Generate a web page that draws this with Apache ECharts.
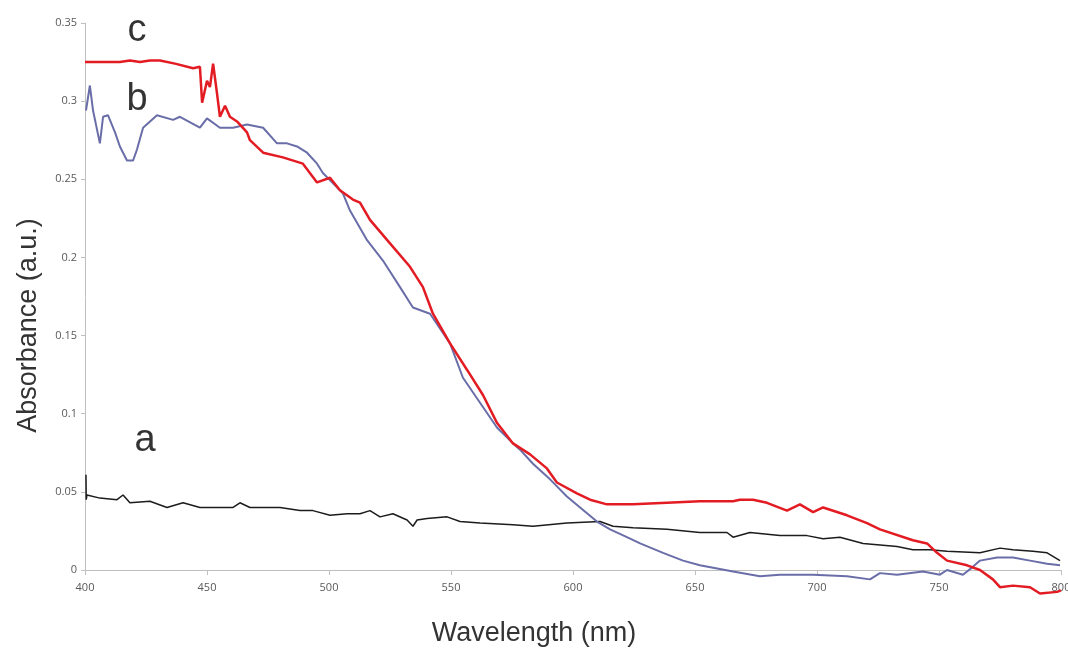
<!DOCTYPE html>
<html>
<head>
<meta charset="utf-8">
<script src="https://cdn.jsdelivr.net/npm/echarts@6/dist/echarts.min.js"></script>
<style>
  html, body { margin: 0; padding: 0; background: #fff; }
  #chart { width: 1068px; height: 648px; }
</style>
</head>
<body>
<div id="chart"></div>
<script>
// wavelength (nm), absorbance (a.u.) pairs
const curveA = [
  [400.4, 0.061], [400.5, 0.045], [400.8, 0.048], [406.1, 0.046], [413.1, 0.045], [415.6, 0.048],
  [418.4, 0.043], [426.6, 0.044], [433.6, 0.040], [440.2, 0.043], [447.1, 0.040], [460.7, 0.040],
  [463.5, 0.043], [467.6, 0.040], [479.9, 0.040], [488.1, 0.038], [493.4, 0.038], [500.4, 0.035],
  [507.4, 0.036], [512.7, 0.036], [516.8, 0.038], [520.9, 0.034], [526.2, 0.036], [532.0, 0.032],
  [534.4, 0.028], [536.1, 0.032], [540.2, 0.033], [548.4, 0.034], [553.7, 0.031], [561.9, 0.030],
  [575.4, 0.029], [583.6, 0.028], [597.5, 0.030], [611.1, 0.031], [616.4, 0.028], [624.6, 0.027],
  [638.5, 0.026], [652.0, 0.024], [663.1, 0.024], [665.6, 0.021], [672.5, 0.024], [684.8, 0.022],
  [695.9, 0.022], [702.5, 0.020], [709.4, 0.021], [718.9, 0.017], [732.8, 0.015], [739.3, 0.013],
  [746.3, 0.013], [753.3, 0.012], [766.8, 0.011], [775.0, 0.014], [780.3, 0.013], [788.5, 0.012],
  [794.3, 0.011], [799.6, 0.006]
];

const curveB = [
  [400.4, 0.294], [402.0, 0.310], [403.3, 0.294], [406.1, 0.273], [407.4, 0.290], [409.4, 0.291],
  [412.3, 0.280], [414.3, 0.271], [417.2, 0.262], [419.7, 0.262], [421.3, 0.269], [423.8, 0.283],
  [429.5, 0.291], [436.1, 0.288], [438.9, 0.290], [447.1, 0.283], [450.0, 0.289], [455.3, 0.283],
  [460.7, 0.283], [466.4, 0.285], [473.0, 0.283], [478.7, 0.273], [482.8, 0.273], [486.9, 0.271],
  [491.0, 0.267], [495.1, 0.260], [497.5, 0.254], [505.7, 0.241], [508.6, 0.230], [515.6, 0.211],
  [522.1, 0.198], [529.1, 0.181], [534.4, 0.168], [541.4, 0.164], [549.6, 0.145], [554.9, 0.123],
  [561.9, 0.107], [568.9, 0.091], [575.4, 0.081], [578.3, 0.077], [583.6, 0.068], [590.6, 0.058],
  [597.5, 0.047], [602.9, 0.040], [609.8, 0.031], [615.2, 0.026], [622.1, 0.021], [627.5, 0.017],
  [636.9, 0.011], [645.1, 0.006], [652.0, 0.003], [665.6, -0.001], [676.6, -0.004], [684.8, -0.003],
  [698.4, -0.003], [712.3, -0.004], [721.7, -0.006], [725.8, -0.002], [732.8, -0.003], [743.4, -0.001],
  [750.4, -0.003], [753.3, 0.000], [759.8, -0.003], [763.9, 0.002], [766.8, 0.006], [773.8, 0.008],
  [780.3, 0.008], [787.3, 0.006], [794.3, 0.004], [799.6, 0.003]
];

const curveC = [
  [400.0, 0.325], [414.3, 0.325], [418.4, 0.326], [422.5, 0.325], [426.6, 0.326], [430.7, 0.326],
  [436.9, 0.324], [444.3, 0.321], [447.1, 0.322], [448.0, 0.299], [450.0, 0.313], [451.2, 0.309],
  [452.5, 0.324], [454.1, 0.305], [455.3, 0.290], [457.4, 0.297], [459.4, 0.290], [462.3, 0.287],
  [466.4, 0.280], [467.6, 0.275], [473.0, 0.267], [481.1, 0.264], [489.3, 0.260], [495.1, 0.248],
  [500.4, 0.251], [504.5, 0.243], [509.8, 0.237], [512.7, 0.235], [516.8, 0.224], [525.0, 0.209],
  [533.2, 0.194], [538.5, 0.181], [542.6, 0.164], [549.6, 0.145], [556.6, 0.128], [563.1, 0.112],
  [568.9, 0.094], [575.4, 0.081], [582.4, 0.074], [589.3, 0.065], [593.4, 0.056], [601.6, 0.049],
  [607.0, 0.045], [613.9, 0.042], [624.6, 0.042], [638.5, 0.043], [652.0, 0.044], [665.6, 0.044],
  [668.4, 0.045], [673.8, 0.045], [679.5, 0.043], [687.7, 0.038], [693.0, 0.042], [698.4, 0.037],
  [702.5, 0.040], [712.3, 0.035], [720.5, 0.030], [725.8, 0.026], [739.3, 0.019], [745.1, 0.017],
  [749.2, 0.011], [753.3, 0.006], [761.5, 0.003], [766.8, 0.000], [772.1, -0.006], [775.0, -0.011],
  [780.3, -0.010], [787.3, -0.011], [791.4, -0.015], [798.4, -0.014], [800.0, -0.013]
];

// curve letters and where they sit (data coords)
const letterNames = ['c', 'b', 'a'];
const letterPos = [[421.3, 0.345], [421.3, 0.301], [424.6, 0.083]];

const chart = echarts.init(document.getElementById('chart'));

const lineSeries = (name, data, color, width) => ({
  name: name,
  type: 'line',
  data: data,
  showSymbol: false,
  clip: false,
  lineStyle: { color: color, width: width },
  itemStyle: { color: color },
  z: 3,
});

chart.setOption({
  animation: false,
  grid: { left: 85, right: 7, top: 23, bottom: 78, outerBoundsMode: 'none' },
  xAxis: {
    type: 'value',
    min: 400,
    max: 800,
    interval: 50,
    name: 'Wavelength (nm)',
    nameLocation: 'middle',
    nameGap: 50,
    nameTextStyle: { fontFamily: 'Liberation Sans', fontSize: 27, color: '#333', padding: [0, 78, 0, 0] },
    axisLine: { lineStyle: { color: '#bfbfbf', width: 1 } },
    axisTick: { show: true, length: 5, lineStyle: { color: '#bfbfbf' } },
    axisLabel: { fontFamily: 'Open Sans', fontSize: 11, color: '#595959', margin: 12 },
    splitLine: { show: false },
  },
  yAxis: {
    type: 'value',
    min: 0,
    max: 0.35,
    interval: 0.05,
    name: 'Absorbance (a.u.)',
    nameLocation: 'middle',
    nameGap: 43,
    nameTextStyle: { fontFamily: 'Liberation Sans', fontSize: 27, color: '#333', padding: [0, 58, 0, 0] },
    axisLine: { show: true, lineStyle: { color: '#bfbfbf', width: 1 } },
    axisTick: { show: true, length: 4, lineStyle: { color: '#bfbfbf' } },
    axisLabel: { fontFamily: 'Open Sans', fontSize: 11, color: '#595959', margin: 8 },
    splitLine: { show: false },
  },
  series: [
    lineSeries('a', curveA, '#1c1c1c', 1.5),
    lineSeries('b', curveB, '#6a6ea8', 2),
    lineSeries('c', curveC, '#e31b23', 2.5),
    {
      type: 'scatter',
      symbolSize: 1,
      itemStyle: { color: 'transparent' },
      data: letterPos.map((p, i) => ({ name: letterNames[i], value: p })),
      label: {
        show: true,
        position: 'inside',
        formatter: '{b}',
        fontFamily: 'Liberation Sans',
        fontSize: 38,
        color: '#000',
      },
      silent: true,
      z: 5,
    },
  ],
});
</script>
</body>
</html>
